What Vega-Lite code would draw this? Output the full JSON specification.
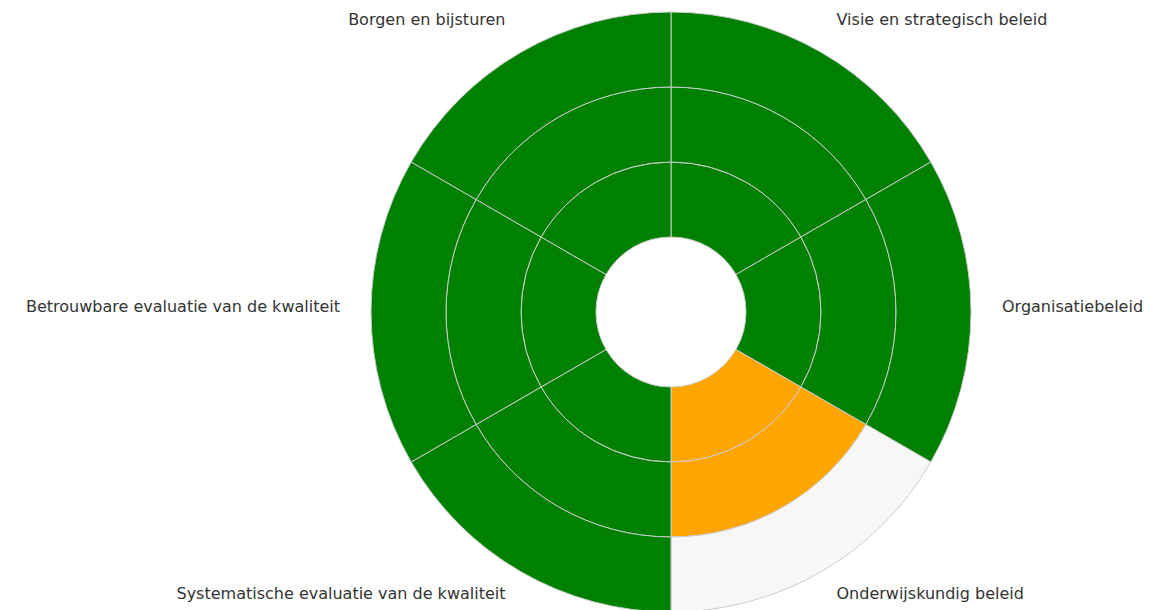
{
  "$schema": "https://vega.github.io/schema/vega-lite/v6.json",
  "autosize": {"type": "none"},
  "width": 956,
  "height": 610,
  "padding": {"left": 193, "top": 7, "right": 0, "bottom": 0},
  "background": "white",
  "config": {"view": {"stroke": null}},
  "datasets": {
    "cells": [
      {"idx": 1, "cat": "Visie en strategisch beleid", "ring": 1, "status": "voldoende"},
      {"idx": 2, "cat": "Organisatiebeleid", "ring": 1, "status": "voldoende"},
      {"idx": 3, "cat": "Onderwijskundig beleid", "ring": 1, "status": "in ontwikkeling"},
      {"idx": 4, "cat": "Systematische evaluatie van de kwaliteit", "ring": 1, "status": "voldoende"},
      {"idx": 5, "cat": "Betrouwbare evaluatie van de kwaliteit", "ring": 1, "status": "voldoende"},
      {"idx": 6, "cat": "Borgen en bijsturen", "ring": 1, "status": "voldoende"},
      {"idx": 1, "cat": "Visie en strategisch beleid", "ring": 2, "status": "voldoende"},
      {"idx": 2, "cat": "Organisatiebeleid", "ring": 2, "status": "voldoende"},
      {"idx": 3, "cat": "Onderwijskundig beleid", "ring": 2, "status": "in ontwikkeling"},
      {"idx": 4, "cat": "Systematische evaluatie van de kwaliteit", "ring": 2, "status": "voldoende"},
      {"idx": 5, "cat": "Betrouwbare evaluatie van de kwaliteit", "ring": 2, "status": "voldoende"},
      {"idx": 6, "cat": "Borgen en bijsturen", "ring": 2, "status": "voldoende"},
      {"idx": 1, "cat": "Visie en strategisch beleid", "ring": 3, "status": "voldoende"},
      {"idx": 2, "cat": "Organisatiebeleid", "ring": 3, "status": "voldoende"},
      {"idx": 3, "cat": "Onderwijskundig beleid", "ring": 3, "status": "leeg"},
      {"idx": 4, "cat": "Systematische evaluatie van de kwaliteit", "ring": 3, "status": "voldoende"},
      {"idx": 5, "cat": "Betrouwbare evaluatie van de kwaliteit", "ring": 3, "status": "voldoende"},
      {"idx": 6, "cat": "Borgen en bijsturen", "ring": 3, "status": "voldoende"}
    ],
    "labels": [
      {"idx": 1, "cat": "Visie en strategisch beleid"},
      {"idx": 2, "cat": "Organisatiebeleid"},
      {"idx": 3, "cat": "Onderwijskundig beleid"},
      {"idx": 4, "cat": "Systematische evaluatie van de kwaliteit"},
      {"idx": 5, "cat": "Betrouwbare evaluatie van de kwaliteit"},
      {"idx": 6, "cat": "Borgen en bijsturen"}
    ]
  },
  "layer": [
    {
      "data": {"name": "cells"},
      "transform": [{"filter": "datum.ring == 1"}],
      "mark": {"type": "arc", "radius": 150, "radius2": 75, "stroke": "#cccccc", "strokeWidth": 1},
      "encoding": {
        "theta": {"field": "ring", "type": "quantitative", "aggregate": "count", "stack": true, "scale": {"domain": [0, 6]}},
        "detail": {"field": "idx", "type": "ordinal"},
        "order": {"field": "idx", "type": "quantitative"},
        "color": {"field": "status", "type": "nominal", "legend": null, "scale": {"domain": ["voldoende", "in ontwikkeling", "leeg"], "range": ["#008000", "#ffa500", "#f7f7f7"]}}
      }
    },
    {
      "data": {"name": "cells"},
      "transform": [{"filter": "datum.ring == 2"}],
      "mark": {"type": "arc", "radius": 225, "radius2": 150, "stroke": "#cccccc", "strokeWidth": 1},
      "encoding": {
        "theta": {"field": "ring", "type": "quantitative", "aggregate": "count", "stack": true},
        "detail": {"field": "idx", "type": "ordinal"},
        "order": {"field": "idx", "type": "quantitative"},
        "color": {"field": "status", "type": "nominal", "legend": null}
      }
    },
    {
      "data": {"name": "cells"},
      "transform": [{"filter": "datum.ring == 3"}],
      "mark": {"type": "arc", "radius": 300, "radius2": 225, "stroke": "#cccccc", "strokeWidth": 1},
      "encoding": {
        "theta": {"field": "ring", "type": "quantitative", "aggregate": "count", "stack": true},
        "detail": {"field": "idx", "type": "ordinal"},
        "order": {"field": "idx", "type": "quantitative"},
        "color": {"field": "status", "type": "nominal", "legend": null}
      }
    },
    {
      "data": {"name": "labels"},
      "mark": {"type": "text", "radius": 331, "dy": -5, "align": "left", "baseline": "middle", "font": "DejaVu Sans", "fontSize": 16, "color": "#333333"},
      "encoding": {
        "theta": {"field": "idx", "type": "quantitative", "aggregate": "count", "stack": true},
        "detail": {"field": "idx", "type": "ordinal"},
        "order": {"field": "idx", "type": "quantitative"},
        "text": {"condition": {"test": "datum.idx <= 3", "field": "cat"}, "value": ""}
      }
    },
    {
      "data": {"name": "labels"},
      "mark": {"type": "text", "radius": 331, "dy": -5, "align": "right", "baseline": "middle", "font": "DejaVu Sans", "fontSize": 16, "color": "#333333"},
      "encoding": {
        "theta": {"field": "idx", "type": "quantitative", "aggregate": "count", "stack": true},
        "detail": {"field": "idx", "type": "ordinal"},
        "order": {"field": "idx", "type": "quantitative"},
        "text": {"condition": {"test": "datum.idx > 3", "field": "cat"}, "value": ""}
      }
    }
  ]
}
